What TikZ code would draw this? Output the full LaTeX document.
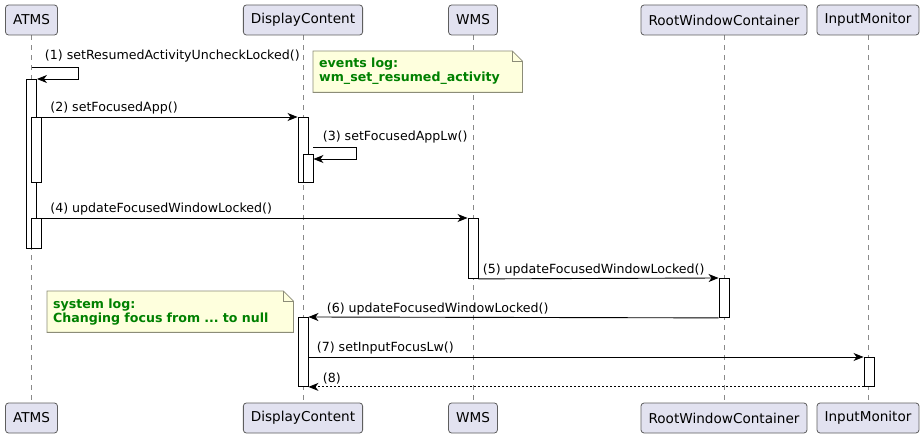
\documentclass[tikz,border=0pt]{standalone}
\usepackage{fontspec}
\setmainfont{DejaVu Sans}
\usetikzlibrary{arrows.meta,backgrounds}

\definecolor{partfill}{HTML}{E2E2F0}
\definecolor{partline}{HTML}{5E5E5E}
\definecolor{notefill}{HTML}{FEFFDD}
\definecolor{noteline}{HTML}{8C8C78}
\definecolor{notetext}{HTML}{008000}
\definecolor{lifeline}{HTML}{8A8A8A}

\begin{document}
\begin{tikzpicture}[x=1pt,y=-1pt,>={Stealth[length=10pt,width=8pt,inset=3pt]},
    part node/.style={draw=partline,fill=partfill,rounded corners=3pt,line width=0.8pt,
      minimum height=30pt,inner xsep=7.5pt,font=\fontsize{13.6}{16}\selectfont},
    bar node/.style={draw,fill=white,line width=0.9pt,minimum width=10pt,inner sep=0pt,anchor=north},
    msg/.style={->,line width=0.9pt},
    msg label/.style={anchor=base west,inner sep=0pt,font=\fontsize{12.6}{15}\selectfont},
    life/.style={draw=lifeline,line width=0.8pt,dash pattern=on 5pt off 5pt},
    note node/.style={anchor=north west,align=left,inner xsep=6pt,inner ysep=0pt,minimum height=41pt,
      text=notetext,font=\fontsize{12.6}{14}\selectfont\bfseries\frenchspacing},
    note line/.style={draw=noteline,fill=notefill,line width=0.8pt}]
  \useasboundingbox (0,0) rectangle (924,438);

  % participants
  \node[part node] (atms) at (31.5,20) {ATMS};
  \node[part node] (dc) at (303,20) {DisplayContent};
  \node[part node] (wms) at (473,20) {WMS};
  \node[part node] (rwc) at (724,20) {RootWindowContainer};
  \node[part node] (im) at (868,20) {InputMonitor};
  \node[part node] (atms end) at (31.5,418) {ATMS};
  \node[part node] (dc end) at (303,418) {DisplayContent};
  \node[part node] (wms end) at (473,418) {WMS};
  \node[part node] (rwc end) at (724,418) {RootWindowContainer};
  \node[part node] (im end) at (868,418) {InputMonitor};

  \begin{scope}[on background layer]
    \draw[life] (atms) -- (atms end);
    \draw[life] (dc) -- (dc end);
    \draw[life] (wms) -- (wms end);
    \draw[life] (rwc) -- (rwc end);
    \draw[life] (im) -- (im end);
  \end{scope}

  % activations
  \node[bar node,minimum height=169pt] (atms act) at (31.5,79) {};
  \node[bar node,minimum height=65pt] (atms act2) at (36.5,117) {};
  \node[bar node,minimum height=30pt] (atms act3) at (36.5,218) {};
  \node[bar node,minimum height=65pt] (dc act) at (303,117) {};
  \node[bar node,minimum height=28pt] (dc act2) at (308,154) {};
  \node[bar node,minimum height=60pt] (wms act) at (473,218) {};
  \node[bar node,minimum height=39pt] (rwc act) at (724,278) {};
  \node[bar node,minimum height=69pt] (dc act3) at (303,317) {};
  \node[bar node,minimum height=29pt] (im act) at (869,357) {};

  % messages
  \coordinate (self1) at (31.5,67);
  \draw[msg] (self1) -- node[msg label,pos=0,xshift=13pt,yshift=7pt] {(1) setResumedActivityUncheckLocked()}
    ++(47,0) |- (atms act.north east);
  \draw[msg] (atms act2.north east) -- node[msg label,pos=0,xshift=8pt,yshift=5pt] {(2) setFocusedApp()}
    (dc act.north west);
  \draw[msg] ([yshift=7pt]dc act2.north east) -- node[msg label,pos=0,xshift=9pt,yshift=6pt] {(3) setFocusedAppLw()}
    ++(43,0) |- ([yshift=-5pt]dc act2.north east);
  \draw[msg] (atms act3.north east) -- node[msg label,pos=0,xshift=8pt,yshift=5pt] {(4) updateFocusedWindowLocked()}
    (wms act.north west);
  \draw[msg] (wms act.south east) -- node[msg label,pos=0,xshift=4pt,yshift=5pt] {(5) updateFocusedWindowLocked()}
    (rwc act.north west);
  \draw[msg] (rwc act.south west) -- node[msg label,pos=1,xshift=18pt,yshift=4pt] {(6) updateFocusedWindowLocked()}
    (dc act3.north east);
  \draw[msg] (dc act3.east |- im act.north) -- node[msg label,pos=0,xshift=8pt,yshift=5pt] {(7) setInputFocusLw()}
    (im act.north west);
  \draw[msg,dash pattern=on 2pt off 2pt] (im act.south west) -- node[msg label,pos=1,xshift=14pt,yshift=4pt] {(8)}
    (dc act3.south east);

  % notes
  \node[note node,text width=197pt] (events note) at (313,51) {events log:\\wm\_set\_resumed\_activity};
  \node[note node,text width=234pt] (system note) at (47,291) {system log:\\Changing focus from ... to null};
  \begin{scope}[on background layer]
    \foreach \n in {events note,system note} {
      \draw[note line] (\n.north west) -- ([xshift=-10pt]\n.north east) -- ([yshift=-10pt]\n.north east)
        -- (\n.south east) -- (\n.south west) -- cycle;
      \draw[draw=noteline,line width=0.8pt] ([xshift=-10pt]\n.north east) |- ([yshift=-10pt]\n.north east);
    }
  \end{scope}
\end{tikzpicture}
\end{document}
